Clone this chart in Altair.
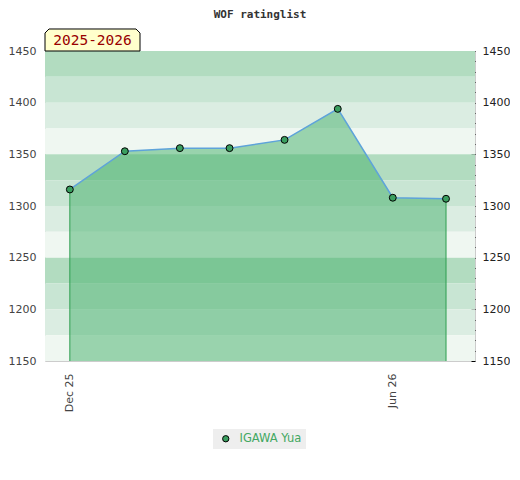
import altair as alt
import pandas as pd

title_text = "WOF ratinglist"
season_label = "2025-2026"
player = "IGAWA Yua"
dates = ["2025-12-01", "2026-01-01", "2026-02-01", "2026-03-01",
         "2026-04-01", "2026-05-01", "2026-06-01", "2026-07-01"]
ratings = [1316, 1353, 1356, 1356, 1364, 1394, 1308, 1307]
y_major = [1150, 1200, 1250, 1300, 1350, 1400, 1450]
y_minor = list(range(1150, 1451, 10))
band_lows = [1425, 1400, 1375, 1350, 1325, 1300, 1275, 1250, 1225, 1200, 1175, 1150]
shades = ["#b2dcc0", "#c8e5d3", "#dbede2", "#eff7f1"]

W, H = 430, 310
Y_DOMAIN = [1150, 1450]

df = pd.DataFrame({
    "date": [d + "T00:00:00" for d in dates],
    "rating": ratings,
    "player": [player] * len(dates),
})
ends = df.iloc[[0, -1]]
bands = pd.DataFrame({
    "lo": band_lows,
    "hi": [b + 25 for b in band_lows],
    "shade": [shades[i % 4] for i in range(len(band_lows))],
})

x_enc = alt.X(
    "date:T",
    scale=alt.Scale(domain=[alt.DateTime(year=2025, month=11, date=17),
                            alt.DateTime(year=2026, month=7, date=17, hours=8)]),
    axis=alt.Axis(
        values=[alt.DateTime(year=2025, month=12, date=1),
                alt.DateTime(year=2026, month=6, date=1)],
        format="%b %y", labelAngle=-90, ticks=False, domain=False, grid=False,
        labelPadding=12, labelColor="#444", labelFontSize=11,
        labelFont="DejaVu Sans", title=None),
)


def yscale():
    return alt.Scale(domain=Y_DOMAIN, nice=False, zero=False)


band_layer = alt.Chart(bands).mark_rect().encode(
    x=alt.value(0), x2=alt.value(W),
    y=alt.Y("lo:Q", scale=yscale(), axis=alt.Axis(
        orient="left", values=y_major, format="d", ticks=False, domain=False, grid=False,
        labelPadding=9, labelColor="#444", labelFontSize=11,
        labelFont="DejaVu Sans", title=None)),
    y2="hi:Q",
    color=alt.Color("shade:N", scale=None),
)

area_layer = alt.Chart(df).mark_area(color="#44af69", opacity=0.5).encode(
    x=x_enc,
    y=alt.Y("rating:Q", scale=yscale(), axis=None),
    y2=alt.Y2(datum=1150),
)

rule_layer = alt.Chart(ends).mark_rule(color="#2e9e4f", strokeWidth=1).encode(
    x=x_enc,
    y=alt.Y("rating:Q", scale=yscale(), axis=None),
    y2=alt.Y2(datum=1150),
)

line_layer = alt.Chart(df).mark_line(color="#5ea3da", strokeWidth=1.5).encode(
    x=x_enc,
    y=alt.Y("rating:Q", scale=yscale(), axis=None),
)

point_layer = alt.Chart(df).mark_point(
    filled=True, opacity=1, stroke="black", strokeWidth=1, size=48, shape="circle"
).encode(
    x=x_enc,
    y=alt.Y("rating:Q", scale=yscale(), axis=alt.Axis(
        orient="right", values=y_minor, format="d",
        labelExpr="datum.value % 50 == 0 ? datum.label : ''",
        tickSize=4, tickColor="black", offset=-4, domain=False, grid=False,
        labelPadding=7, labelColor="#222", labelFontSize=11, labelOverlap=False,
        labelFlush=False, labelFont="DejaVu Sans", title=None)),
    color=alt.Color("player:N", scale=alt.Scale(range=["#3a9e5f"]), legend=alt.Legend(
        orient="none", legendX=168, legendY=378, title=None,
        fillColor="#eeeeee", padding=4, symbolType="circle", symbolSize=40,
        symbolStrokeColor="black", symbolStrokeWidth=1,
        labelColor="#43a862", labelFontSize=11.5, labelFont="DejaVu Sans",
        symbolOffset=3, labelOffset=8)),
)

label_df = pd.DataFrame({"label": [season_label]})
box_path = "M -1 0.2316 L -1 -0.147 L -0.916 -0.2316 L 0.916 -0.2316 L 1 -0.147 L 1 0.2316 Z"
box_layer = alt.Chart(label_df).mark_point(
    shape=box_path, filled=True, fill="#ffffcc", stroke="black", strokeWidth=1, opacity=1
).encode(x=alt.value(47.5), y=alt.value(-11), size=alt.value(9025))
text_layer = alt.Chart(label_df).mark_text(
    font="DejaVu Sans Mono", fontSize=14.5, color="#990000", baseline="middle", align="center"
).encode(x=alt.value(47.5), y=alt.value(-10), text="label:N")

chart = alt.layer(
    band_layer, area_layer, rule_layer, line_layer, point_layer, box_layer, text_layer
).resolve_scale(y="independent").properties(
    width=W, height=H,
    title=alt.TitleParams(title_text, font="DejaVu Sans Mono", fontSize=11,
                          fontWeight="bold", color="#333", offset=7, anchor="middle"),
    padding={"left": 0, "top": 0, "right": 0, "bottom": 5},
).configure_view(stroke="#cccccc")

chart.save("out.html", embed_options={"renderer": "svg", "actions": False})
